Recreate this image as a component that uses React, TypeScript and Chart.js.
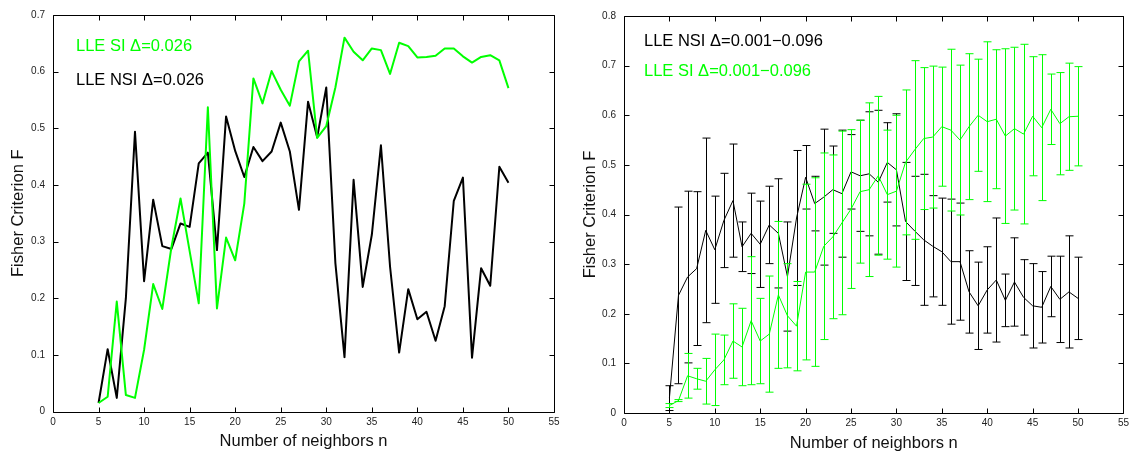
import React, { useEffect, useRef } from "react";
import { Chart, registerables } from "chart.js";

Chart.register(...registerables);

// ---------- data ----------
const neighbors = [
  5, 6, 7, 8, 9, 10, 11, 12, 13, 14, 15, 16, 17, 18, 19, 20, 21, 22, 23, 24, 25, 26, 27,
  28, 29, 30, 31, 32, 33, 34, 35, 36, 37, 38, 39, 40, 41, 42, 43, 44, 45, 46, 47, 48, 49, 50,
];

// left panel (single delta)
const leftSI = [
  0.015, 0.026, 0.194, 0.029, 0.024, 0.109, 0.225, 0.181, 0.29, 0.376, 0.283, 0.191, 0.537,
  0.182, 0.307, 0.267, 0.367, 0.588, 0.544, 0.601, 0.568, 0.54, 0.618, 0.637, 0.483, 0.504,
  0.572, 0.66, 0.635, 0.62, 0.641, 0.638, 0.596, 0.651, 0.645, 0.625, 0.626, 0.628, 0.641,
  0.641, 0.627, 0.616, 0.626, 0.629, 0.62, 0.571,
];
const leftNSI = [
  0.015, 0.11, 0.024, 0.2, 0.494, 0.23, 0.374, 0.292, 0.287, 0.332, 0.326, 0.438, 0.457,
  0.285, 0.521, 0.46, 0.414, 0.467, 0.442, 0.459, 0.51, 0.459, 0.356, 0.547, 0.484, 0.572,
  0.262, 0.096, 0.409, 0.22, 0.312, 0.47, 0.256, 0.104, 0.216, 0.163, 0.176, 0.125, 0.186,
  0.372, 0.413, 0.095, 0.253, 0.222, 0.432, 0.404,
];

// right panel (delta range, mean +/- error)
const rightNSIMean = [
  0.03, 0.237, 0.274, 0.291, 0.368, 0.329, 0.388, 0.428, 0.335, 0.362, 0.34, 0.379, 0.362,
  0.275, 0.393, 0.475, 0.422, 0.435, 0.45, 0.442, 0.486, 0.478, 0.482, 0.465, 0.505, 0.49,
  0.386, 0.367, 0.349, 0.336, 0.325, 0.305, 0.305, 0.244, 0.216, 0.248, 0.268, 0.227, 0.264,
  0.233, 0.216, 0.213, 0.255, 0.229, 0.244, 0.231,
];
const rightNSIErr = [
  0.025, 0.178, 0.173, 0.155, 0.186, 0.108, 0.095, 0.114, 0.05, 0.081, 0.087, 0.078, 0.11,
  0.11, 0.136, 0.064, 0.055, 0.137, 0.088, 0.128, 0.075, 0.112, 0.125, 0.145, 0.08, 0.113,
  0.119, 0.11, 0.132, 0.102, 0.108, 0.126, 0.118, 0.083, 0.088, 0.087, 0.125, 0.053, 0.089,
  0.076, 0.085, 0.072, 0.061, 0.087, 0.113, 0.083,
];
const rightSIMean = [
  0.015, 0.025, 0.075, 0.069, 0.064, 0.087, 0.107, 0.145, 0.133, 0.186, 0.145, 0.159, 0.238,
  0.196, 0.175, 0.284, 0.284, 0.336, 0.355, 0.383, 0.411, 0.446, 0.45, 0.478, 0.44, 0.447,
  0.505, 0.53, 0.553, 0.556, 0.577, 0.57, 0.55, 0.577, 0.6, 0.587, 0.592, 0.558, 0.573, 0.562,
  0.598, 0.575, 0.612, 0.583, 0.597, 0.598,
];
const rightSIErr = [
  0.004, 0.002, 0.045, 0.021, 0.046, 0.072, 0.05, 0.075, 0.078, 0.129, 0.086, 0.117, 0.148,
  0.105, 0.09, 0.177, 0.19, 0.188, 0.165, 0.185, 0.16, 0.144, 0.175, 0.16, 0.13, 0.153, 0.146,
  0.18, 0.143, 0.143, 0.12, 0.163, 0.151, 0.147, 0.113, 0.161, 0.14, 0.176, 0.164, 0.181,
  0.12, 0.147, 0.071, 0.103, 0.108, 0.1,
];

const xTicks = [0, 5, 10, 15, 20, 25, 30, 35, 40, 45, 50, 55];
const leftYTicks = [0, 0.1, 0.2, 0.3, 0.4, 0.5, 0.6, 0.7];
const rightYTicks = [0, 0.1, 0.2, 0.3, 0.4, 0.5, 0.6, 0.7, 0.8];

const leftLegend = ["LLE SI \u0394=0.026", "LLE NSI \u0394=0.026"];
const rightLegend = ["LLE NSI \u0394=0.001\u22120.096", "LLE SI \u0394=0.001\u22120.096"];

const xTitle = "Number of neighbors n";
const yTitle = "Fisher Criterion F";

// ---------- styling ----------
const GREEN = "#00ff00";
const BLACK = "#000000";
const FONT = "'Liberation Sans', Arial, Helvetica, sans-serif";

type ErrSet = { mean: number[]; err: number[]; color: string };

function framePlugin(yTicks: number[]) {
  return {
    id: "frameTicks",
    afterDraw(chart: any) {
      const { ctx, chartArea: a, scales } = chart;
      const L = Math.round(a.left) + 0.5;
      const R = Math.round(a.right) + 0.5;
      const T = Math.round(a.top) + 0.5;
      const B = Math.round(a.bottom) + 0.5;
      const tl = 5;
      ctx.save();
      ctx.strokeStyle = "#000";
      ctx.lineWidth = 1;
      ctx.beginPath();
      ctx.rect(L, T, R - L, B - T);
      for (const v of xTicks) {
        const x = Math.round(scales.x.getPixelForValue(v)) + 0.5;
        ctx.moveTo(x, B);
        ctx.lineTo(x, B - tl);
        ctx.moveTo(x, T);
        ctx.lineTo(x, T + tl);
      }
      for (const v of yTicks) {
        const y = Math.round(scales.y.getPixelForValue(v)) + 0.5;
        ctx.moveTo(L, y);
        ctx.lineTo(L + tl, y);
        ctx.moveTo(R, y);
        ctx.lineTo(R - tl, y);
      }
      ctx.stroke();
      ctx.restore();
    },
  };
}

function legendTextPlugin(texts: string[], colors: string[], dx: number, dys: number[]) {
  return {
    id: "legendText",
    afterDraw(chart: any) {
      const { ctx, chartArea: a } = chart;
      ctx.save();
      ctx.font = `16.5px ${FONT}`;
      ctx.textAlign = "left";
      ctx.textBaseline = "middle";
      texts.forEach((t, i) => {
        ctx.fillStyle = colors[i];
        ctx.fillText(t, a.left + dx, a.top + dys[i]);
      });
      ctx.restore();
    },
  };
}

function errorBarPlugin(sets: (ErrSet | null)[]) {
  return {
    id: "errorBars",
    afterDatasetDraw(chart: any, args: any) {
      const set = sets[args.index];
      if (!set) return;
      const { ctx, chartArea: a, scales } = chart;
      ctx.save();
      ctx.beginPath();
      ctx.rect(a.left, a.top, a.right - a.left, a.bottom - a.top);
      ctx.clip();
      ctx.strokeStyle = set.color;
      ctx.lineWidth = 1;
      ctx.beginPath();
      const cap = 4;
      neighbors.forEach((n, i) => {
        const x = Math.round(scales.x.getPixelForValue(n)) + 0.5;
        const yl = scales.y.getPixelForValue(set.mean[i] - set.err[i]);
        const yh = scales.y.getPixelForValue(set.mean[i] + set.err[i]);
        ctx.moveTo(x, yl);
        ctx.lineTo(x, yh);
        ctx.moveTo(x - cap, yl);
        ctx.lineTo(x + cap, yl);
        ctx.moveTo(x - cap, yh);
        ctx.lineTo(x + cap, yh);
      });
      ctx.stroke();
      ctx.restore();
    },
  };
}

function toPoints(ys: number[]) {
  return neighbors.map((n, i) => ({ x: n, y: ys[i] }));
}

type PanelCfg = {
  width: number;
  yMax: number;
  yTicks: number[];
  yAxisWidth: number;
  xAxisHeight: number;
  padRight: number;
  padTop: number;
  yTitlePad: number;
  xTitlePad: number;
  xTickPad: number;
  datasets: any[];
  plugins: any[];
};

function buildConfig(p: PanelCfg): any {
  return {
    type: "scatter",
    data: { datasets: p.datasets },
    options: {
      animation: false,
      responsive: false,
      devicePixelRatio: 1,
      layout: { padding: { left: 0, right: p.padRight, top: p.padTop, bottom: 0 } },
      plugins: { legend: { display: false }, tooltip: { enabled: false } },
      elements: { point: { radius: 0, hoverRadius: 0 } },
      scales: {
        x: {
          type: "linear",
          min: 0,
          max: 55,
          grid: { display: false, drawTicks: false },
          border: { display: false },
          afterBuildTicks: (s: any) => {
            s.ticks = xTicks.map((v) => ({ value: v }));
          },
          afterFit: (s: any) => {
            s.height = p.xAxisHeight;
          },
          ticks: {
            padding: p.xTickPad,
            color: "#222",
            font: { family: FONT, size: 10 },
            maxRotation: 0,
            autoSkip: false,
            callback: (v: any) => String(v),
          },
          title: {
            display: true,
            text: xTitle,
            color: "#111",
            font: { family: FONT, size: 16.5 },
            padding: { top: 0, bottom: p.xTitlePad },
          },
        },
        y: {
          type: "linear",
          min: 0,
          max: p.yMax,
          grid: { display: false, drawTicks: false },
          border: { display: false },
          afterBuildTicks: (s: any) => {
            s.ticks = p.yTicks.map((v) => ({ value: v }));
          },
          afterFit: (s: any) => {
            s.width = p.yAxisWidth;
          },
          ticks: {
            padding: 8,
            color: "#222",
            font: { family: FONT, size: 10 },
            autoSkip: false,
            callback: (v: any) => (v === 0 ? "0" : Number(v).toFixed(1)),
          },
          title: {
            display: true,
            text: yTitle,
            color: "#111",
            font: { family: FONT, size: 16.5 },
            padding: { top: p.yTitlePad, bottom: 0 },
          },
        },
      },
    },
    plugins: p.plugins,
  };
}

function lineDs(ys: number[], color: string, width: number) {
  return {
    data: toPoints(ys),
    showLine: true,
    borderColor: color,
    backgroundColor: color,
    borderWidth: width,
    pointRadius: 0,
    tension: 0,
    borderJoinStyle: "round",
    fill: false,
  };
}

export default function App() {
  const leftRef = useRef<HTMLCanvasElement | null>(null);
  const rightRef = useRef<HTMLCanvasElement | null>(null);

  useEffect(() => {
    const charts: Chart[] = [];
    if (leftRef.current) {
      charts.push(
        new Chart(
          leftRef.current,
          buildConfig({
            width: 566,
            yMax: 0.7,
            yTicks: leftYTicks,
            yAxisWidth: 53,
            xAxisHeight: 41.5,
            padRight: 12,
            padTop: 15,
            yTitlePad: 8.4,
            xTitlePad: 1.4,
            xTickPad: 5,
            datasets: [lineDs(leftSI, GREEN, 2), lineDs(leftNSI, BLACK, 2)],
            plugins: [
              framePlugin(leftYTicks),
              legendTextPlugin(leftLegend, [GREEN, BLACK], 23, [31.5, 65]),
            ],
          })
        )
      );
    }
    if (rightRef.current) {
      charts.push(
        new Chart(
          rightRef.current,
          buildConfig({
            width: 567,
            yMax: 0.8,
            yTicks: rightYTicks,
            yAxisWidth: 58,
            xAxisHeight: 40,
            padRight: 6,
            padTop: 16,
            yTitlePad: 14.4,
            xTitlePad: 0,
            xTickPad: 4,
            datasets: [lineDs(rightSIMean, GREEN, 1), lineDs(rightNSIMean, BLACK, 1)],
            plugins: [
              errorBarPlugin([
                { mean: rightSIMean, err: rightSIErr, color: GREEN },
                { mean: rightNSIMean, err: rightNSIErr, color: BLACK },
              ]),
              framePlugin(rightYTicks),
              legendTextPlugin(rightLegend, [BLACK, GREEN], 20, [25.5, 55.5]),
            ],
          })
        )
      );
    }
    return () => {
      charts.forEach((c) => c.destroy());
    };
  }, []);

  return (
    <div
      style={{
        position: "absolute",
        left: 0,
        top: 0,
        width: 1133,
        height: 453,
        background: "#fff",
        overflow: "hidden",
      }}
    >
      <canvas
        ref={leftRef}
        width={566}
        height={453}
        style={{ position: "absolute", left: 0, top: 0, width: 566, height: 453 }}
      />
      <canvas
        ref={rightRef}
        width={567}
        height={453}
        style={{ position: "absolute", left: 566, top: 0, width: 567, height: 453 }}
      />
    </div>
  );
}
